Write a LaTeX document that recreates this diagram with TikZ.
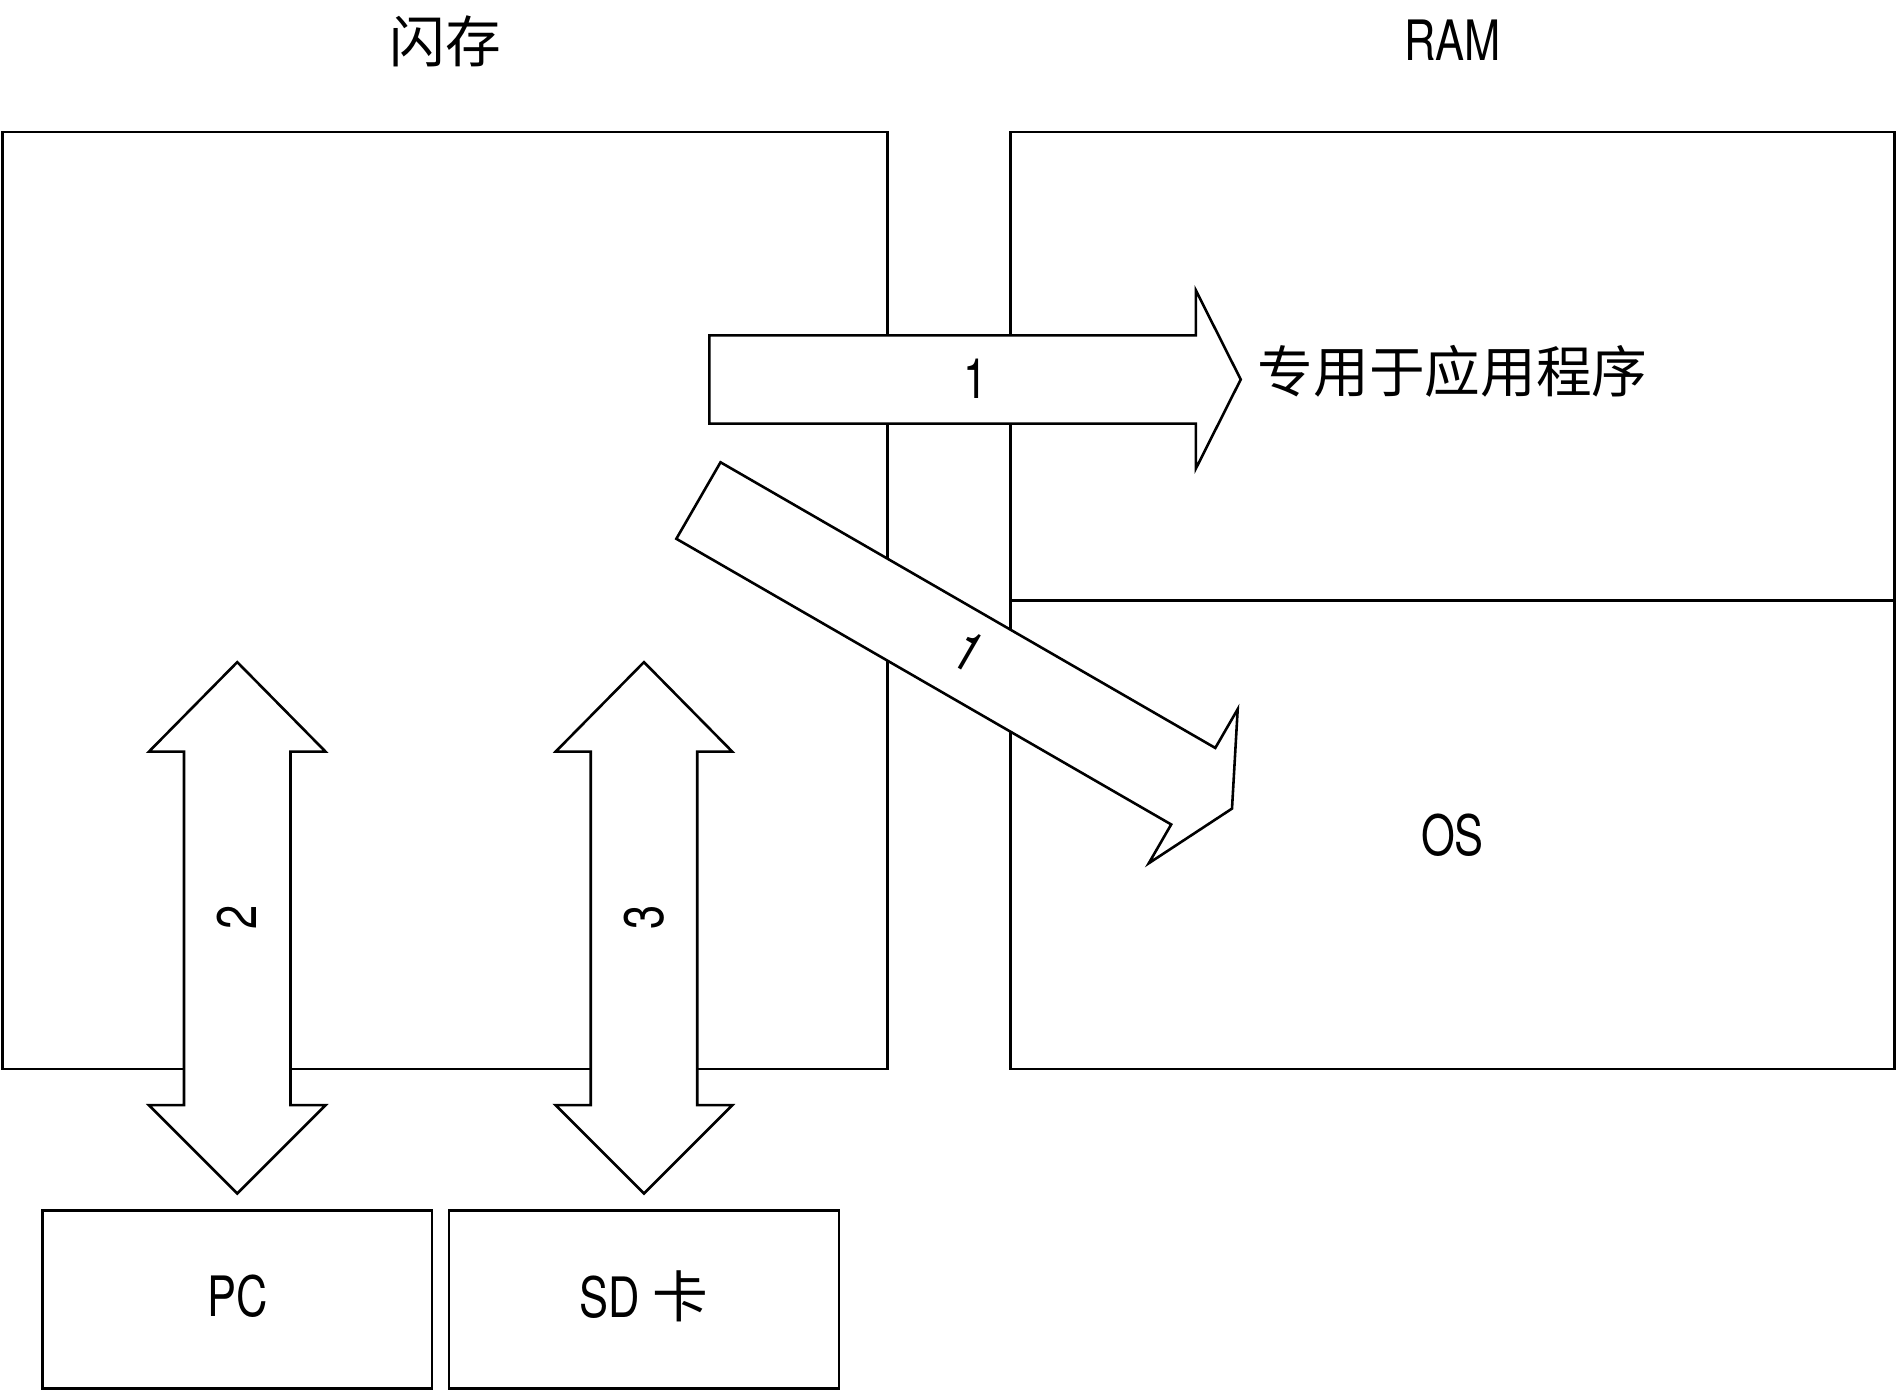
\documentclass[tikz,border=0pt]{standalone}
\usepackage{fontspec}
\setmainfont{TeX Gyre Heros}[FakeStretch=0.78]
\newfontfamily\cjk{Noto Sans CJK SC}

\tikzset{every picture/.style={line width=1.6pt}}

\begin{document}
\begin{tikzpicture}[x=0.75pt,y=0.75pt,yscale=-1,xscale=1,
  txt/.style={inner sep=0.75pt, font=\fontsize{34.5}{41}\selectfont},
  blockarrow/.style={fill=white, line join=miter}]
%set diagram size to 1568 x 1150
\useasboundingbox (0,0) rectangle (1568,1150);

%Shape: Rectangle [flash]
\draw   (2,109) rectangle (733,883) ;
%Shape: Rectangle [ram]
\draw   (835,109) rectangle (1565,883) ;
%Straight Lines [ram divider]
\draw    (835,496) -- (1565,496) ;
%Shape: Rectangle [pc]
\draw   (35,1000) rectangle (357,1147) ;
%Shape: Rectangle [sd card]
\draw   (371,1000) rectangle (693,1147) ;

%Shape: Right Arrow [apps]
\draw  [blockarrow] (586,277) -- (988,277) -- (988,240) -- (1025,313.5) -- (988,387) -- (988,350) -- (586,350) -- cycle ;
%Shape: Right Arrow [os]
\draw  [blockarrow] (595.25,381.9) -- (1004,617.9) -- (1022.5,585.85) -- (1017.8,668) -- (949.05,713.15) -- (967.55,681.1) -- (558.75,445.1) -- cycle ;
%Shape: Up Down Arrow [pc link]
\draw  [blockarrow] (196,547) -- (269,621) -- (240,621) -- (240,913) -- (269,913) -- (196,986) -- (123,913) -- (152,913) -- (152,621) -- (123,621) -- cycle ;
%Shape: Up Down Arrow [sd link]
\draw  [blockarrow] (532,547) -- (605,621) -- (576,621) -- (576,913) -- (605,913) -- (532,986) -- (459,913) -- (488,913) -- (488,621) -- (459,621) -- cycle ;

% Text Node
\draw (368,34) node [txt] (flashlbl) {\cjk 闪存};
% Text Node
\draw (1200,33) node [txt] (ramlbl) {RAM};
% Text Node
\draw (1200,307) node [txt] (appslbl) {\cjk 专用于应用程序};
% Text Node
\draw (1200,690) node [txt] (oslbl) {OS};
% Text Node
\draw (196,1071) node [txt] (pclbl) {PC};
% Text Node
\draw (532,1071) node [txt] (sdlbl) {SD {\cjk 卡}};
% Text Node
\draw (806,313) node [txt] (stepa) {1};
% Text Node
\draw (800,538) node [txt, rotate=-30] (stepb) {1};
% Text Node
\draw (196,758) node [txt, rotate=90] (stepc) {2};
% Text Node
\draw (532,758) node [txt, rotate=90] (stepd) {3};

\end{tikzpicture}
\end{document}
